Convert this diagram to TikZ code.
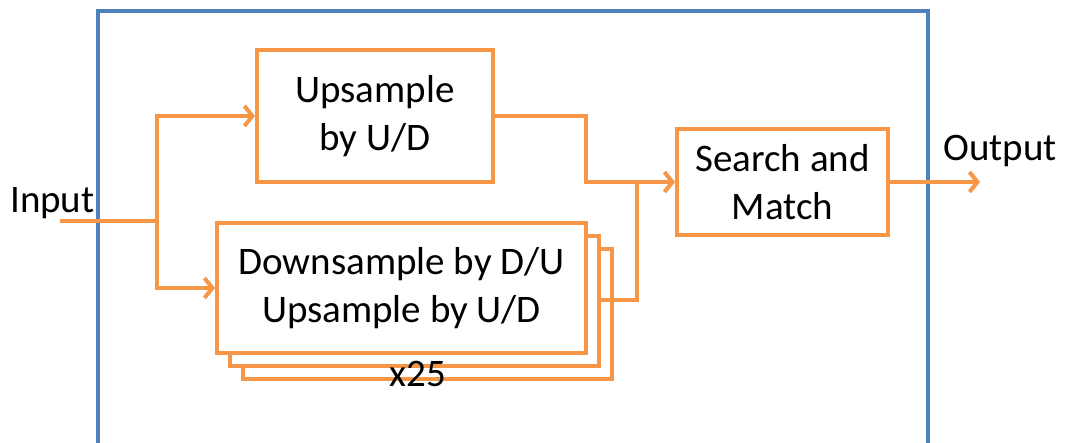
\documentclass[tikz,border=0pt]{standalone}
\usepackage{fontspec}
\setmainfont{Carlito}
\usetikzlibrary{arrows.meta}
\definecolor{boxorange}{HTML}{F79646}
\definecolor{frameblue}{HTML}{4F81BD}
\begin{document}
\begin{tikzpicture}[x=1pt,y=-1pt,
  every node/.style={font=\fontsize{39}{48}\selectfont, text=black},
  box/.style={draw=boxorange, line width=4pt, fill=white, align=center, inner sep=0pt},
  conn/.style={draw=boxorange, line width=4pt},
  arr/.style={conn, -{Straight Barb[length=8pt,width=20pt,line width=4pt]}}]
\useasboundingbox (0,0) rectangle (1068,443);
% outer frame
\draw[frameblue, line width=3.5pt] (98,443) -- (98,11) -- (928,11) -- (928,443);
% boxes
\node[box, minimum width=236pt, minimum height=132pt] (up) at (375,116) {Upsample\\by U/D};
\node[box, minimum width=369pt, minimum height=130pt] (layer3) at (427.5,314) {};
\node[box, minimum width=369pt, minimum height=130pt] (layer2) at (414.5,301) {};
\node[box, minimum width=369pt, minimum height=130pt] (down) at (401.5,288) {Downsample by D/U\\Upsample by U/D};
\node[box, minimum width=211pt, minimum height=106pt] (search) at (782.5,182) {Search and\\Match};
% labels
\node[anchor=base west, inner sep=0pt] (inlabel) at (10,213) {Input};
\node[anchor=base west, inner sep=0pt] (outlabel) at (943,161) {Output};
\node[anchor=base, inner sep=0pt] (count) at (418,386) {x25};
% connectors
\coordinate (in) at (60,221);
\coordinate (split) at (157,221);
\coordinate (dout) at (598,300);
\coordinate (merge) at (637,182);
\coordinate (out) at (980,182);
\draw[conn] (in) -- (split);
\draw[arr] (split) |- (up.west);
\draw[arr] (split) |- (down.west);
\draw[arr] (up.east) -- ++(91,0) |- (search.west);
\draw[conn] (dout) -| (merge);
\draw[arr] (search.east) -- (out);
\end{tikzpicture}
\end{document}
